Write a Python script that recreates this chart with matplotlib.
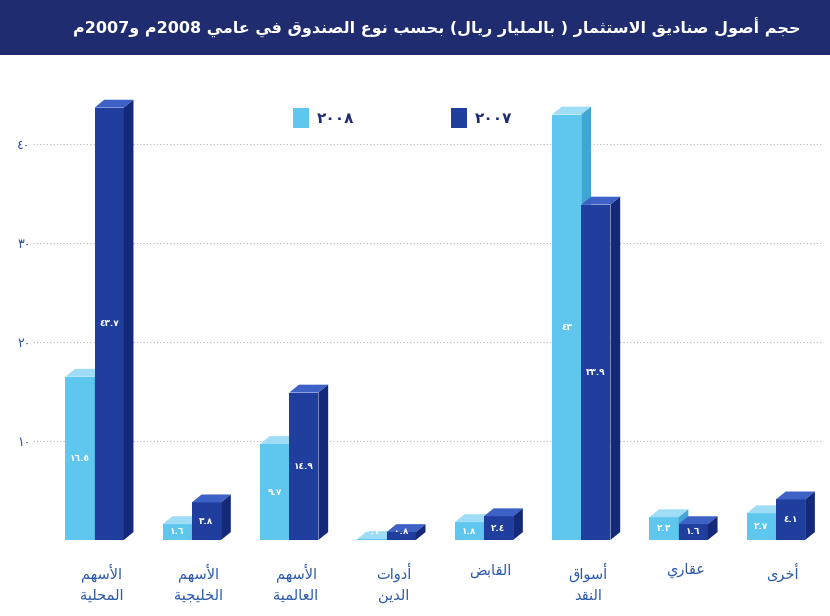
import unicodedata, re
import matplotlib
matplotlib.use("Agg")
import matplotlib.pyplot as plt
from matplotlib.patches import Polygon, Rectangle

categories = ["الأسهم\nالمحلية", "الأسهم\nالخليجية", "الأسهم\nالعالمية", "أدوات\nالدين",
              "القابض", "أسواق\nالنقد", "عقاري", "أخرى"]
values_2008 = [16.5, 1.6, 9.7, 0.1, 1.8, 43.0, 2.3, 2.7]
values_2007 = [43.7, 3.8, 14.9, 0.8, 2.4, 33.9, 1.6, 4.1]
yticks = [10, 20, 30, 40]
title = "حجم أصول صناديق الاستثمار ( بالمليار ريال) بحسب نوع الصندوق في عامي 2008م و2007م"
legend_labels = ["2008", "2007"]

AR_DIG = str.maketrans("0123456789", "٠١٢٣٤٥٦٧٨٩")

def _form(ch, f):
    name = unicodedata.name(ch, "")
    try:
        return unicodedata.lookup(name + " " + f + " FORM")
    except KeyError:
        return None

ALEFS = {"ا": "ALEF", "أ": "ALEF WITH HAMZA ABOVE", "إ": "ALEF WITH HAMZA BELOW", "آ": "ALEF WITH MADDA ABOVE"}

def shape(s):
    out = []
    chars = list(s)
    i = 0
    def can_next(c):
        return c is not None and _form(c, "INITIAL") is not None
    def can_prev(c):
        return c is not None and _form(c, "FINAL") is not None
    while i < len(chars):
        ch = chars[i]
        prev = chars[i - 1] if i > 0 else None
        nxt = chars[i + 1] if i + 1 < len(chars) else None
        jp = can_next(prev) and can_prev(ch)
        if ch == "ل" and nxt in ALEFS:
            f = "FINAL" if jp else "ISOLATED"
            out.append(unicodedata.lookup("ARABIC LIGATURE LAM WITH " + ALEFS[nxt] + " " + f + " FORM"))
            i += 2
            continue
        if _form(ch, "ISOLATED") is None:
            out.append(ch); i += 1; continue
        jn = can_next(ch) and can_prev(nxt)
        if jp and jn and _form(ch, "MEDIAL"):
            out.append(_form(ch, "MEDIAL"))
        elif jp:
            out.append(_form(ch, "FINAL"))
        elif jn:
            out.append(_form(ch, "INITIAL"))
        else:
            out.append(_form(ch, "ISOLATED"))
        i += 1
    return "".join(out)

MIRROR = {"(": ")", ")": "("}

def rtl(s):
    lines = []
    for line in s.split("\n"):
        sh = shape(line)
        toks = re.findall(r"[0-9A-Za-z٠-٩.]+|[^0-9A-Za-z٠-٩.]+", sh)
        vis = []
        for t in reversed(toks):
            if re.match(r"[0-9A-Za-z٠-٩.]", t):
                vis.append(t)
            else:
                vis.append("".join(MIRROR.get(c, c) for c in reversed(t)))
        lines.append("".join(vis))
    return "\n".join(lines)

plt.rcParams["font.family"] = ["DejaVu Sans"]

fig = plt.figure(figsize=(8.3, 6.16), dpi=100)
fig.patch.set_facecolor("white")
fig.patches.append(Rectangle((0, 1 - 55 / 616), 1, 55 / 616, transform=fig.transFigure,
                             facecolor="#1f2d70", edgecolor="none"))
fig.text(0.965, 1 - 28 / 616, rtl(title), color="white", fontsize=11.5, fontweight="bold",
         ha="right", va="center")

ax = fig.add_axes([0.04, 1 - 540 / 616, 0.95, (540 - 75) / 616])
ax.set_xlim(-0.65, 7.45)
ax.set_ylim(0, 47)
for s in ax.spines.values():
    s.set_visible(False)
ax.set_xticks([])
ax.set_yticks(yticks)
ax.set_yticklabels([str(t).translate(AR_DIG) for t in yticks], color="#2c4fa0", fontsize=9)
ax.tick_params(axis="y", length=0, pad=2)
for t in yticks:
    ax.axhline(t, color="#b5b5b5", lw=0.8, ls=(0, (1, 2)), zorder=0)

w = 0.3
dx, dy = 0.1, 0.8
styles = [("#5fc6ee", "#9fdcf5", "#3fa6d6"), ("#1f3e9e", "#3d61c4", "#14297a")]

def bar3d(x0, v, cols, z):
    front, top, side = cols
    ax.add_patch(Rectangle((x0, 0), w, v, facecolor=front, edgecolor="none", zorder=z))
    ax.add_patch(Polygon([(x0, v), (x0 + dx, v + dy), (x0 + w + dx, v + dy), (x0 + w, v)],
                         closed=True, facecolor=top, edgecolor="none", zorder=z))
    ax.add_patch(Polygon([(x0 + w, 0), (x0 + w + dx, dy), (x0 + w + dx, v + dy), (x0 + w, v)],
                         closed=True, facecolor=side, edgecolor="none", zorder=z))

for i, (a, b) in enumerate(zip(values_2008, values_2007)):
    xa = i - w - 0.02
    xb = i - 0.02
    bar3d(xa, a, styles[0], 3)
    bar3d(xb, b, styles[1], 4)
    for x0, v in ((xa, a), (xb, b)):
        ax.text(x0 + w / 2, max(v / 2, 0.9), f"{v:g}".translate(AR_DIG), color="white",
                fontsize=6.5, fontweight="bold", ha="center", va="center", zorder=5)
    ax.text(i + 0.05, -2.3, rtl(categories[i]), color="#2c5aa8", fontsize=10.5,
            ha="center", va="top", linespacing=1.5, clip_on=False)

for k, (lab, cols) in enumerate(zip(legend_labels, styles)):
    x = 0.33 + k * 0.2
    ax.add_patch(Rectangle((x, 0.885), 0.02, 0.045, transform=ax.transAxes,
                           facecolor=cols[0], edgecolor="none"))
    ax.text(x + 0.03, 0.907, lab.translate(AR_DIG), transform=ax.transAxes,
            color="#1f2d70", fontsize=11, fontweight="bold", va="center")

fig.savefig("out.png", dpi=100)
